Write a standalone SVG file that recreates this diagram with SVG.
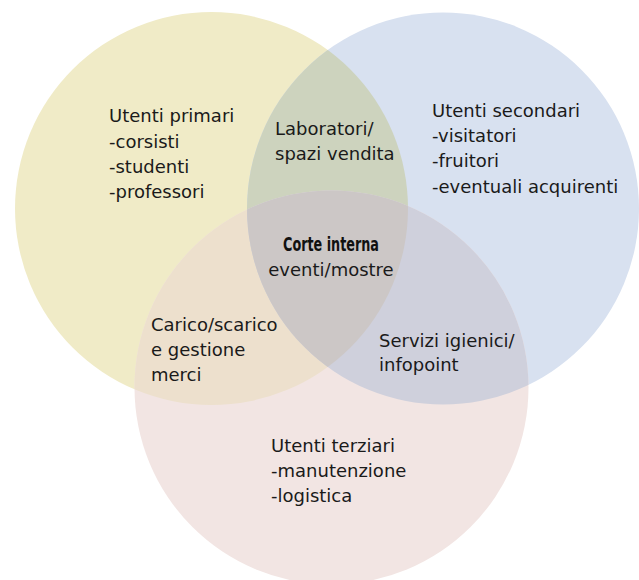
<svg xmlns="http://www.w3.org/2000/svg" width="639" height="580" viewBox="0 0 639 580">
<style>
.t{font-family:"DejaVu Sans","Liberation Sans",sans-serif;font-size:18px;fill:#1a1a1a}
.b{font-family:"DejaVu Sans Condensed","Liberation Sans Narrow","Liberation Sans",sans-serif;font-size:20px;font-weight:bold;fill:#111}
</style>
<defs>
<clipPath id="cY"><circle cx="211.5" cy="208.5" r="196.5"/></clipPath>
<clipPath id="cB"><circle cx="443" cy="208.5" r="196"/></clipPath>
</defs>
<rect width="639" height="580" fill="#ffffff"/>
<g id="primari"><circle cx="211.5" cy="208.5" r="196.5" fill="#f0ebc7"/></g>
<g id="secondari"><circle cx="443" cy="208.5" r="196" fill="#d8e1f0"/></g>
<g id="terziari"><circle cx="331.5" cy="387.5" r="197" fill="#f2e5e3"/></g>
<g id="laboratori"><circle cx="443" cy="208.5" r="196" fill="#cdd3be" clip-path="url(#cY)"/></g>
<g id="carico"><circle cx="331.5" cy="387.5" r="197" fill="#ede0cd" clip-path="url(#cY)"/></g>
<g id="servizi"><circle cx="331.5" cy="387.5" r="197" fill="#cfd0dc" clip-path="url(#cB)"/></g>
<g id="corte"><g clip-path="url(#cY)"><circle cx="331.5" cy="387.5" r="197" fill="#ccc7c6" clip-path="url(#cB)"/></g></g>
<g id="labels">
<text class="t" x="109" y="122">Utenti primari</text>
<text class="t" x="109" y="148">-corsisti</text>
<text class="t" x="109" y="173">-studenti</text>
<text class="t" x="109" y="198">-professori</text>
<text class="t" x="275" y="135">Laboratori/</text>
<text class="t" x="275" y="160">spazi vendita</text>
<text class="t" x="432" y="117">Utenti secondari</text>
<text class="t" x="432" y="142">-visitatori</text>
<text class="t" x="432" y="167">-fruitori</text>
<text class="t" x="432" y="193">-eventuali acquirenti</text>
<text class="b" x="283" y="251" textLength="96" lengthAdjust="spacingAndGlyphs">Corte interna</text>
<text class="t" x="331" y="276" text-anchor="middle">eventi/mostre</text>
<text class="t" x="151" y="331">Carico/scarico</text>
<text class="t" x="151" y="356">e gestione</text>
<text class="t" x="151" y="381">merci</text>
<text class="t" x="379" y="347">Servizi igienici/</text>
<text class="t" x="379" y="371">infopoint</text>
<text class="t" x="271" y="452">Utenti terziari</text>
<text class="t" x="271" y="477">-manutenzione</text>
<text class="t" x="271" y="502">-logistica</text>
</g>
</svg>
